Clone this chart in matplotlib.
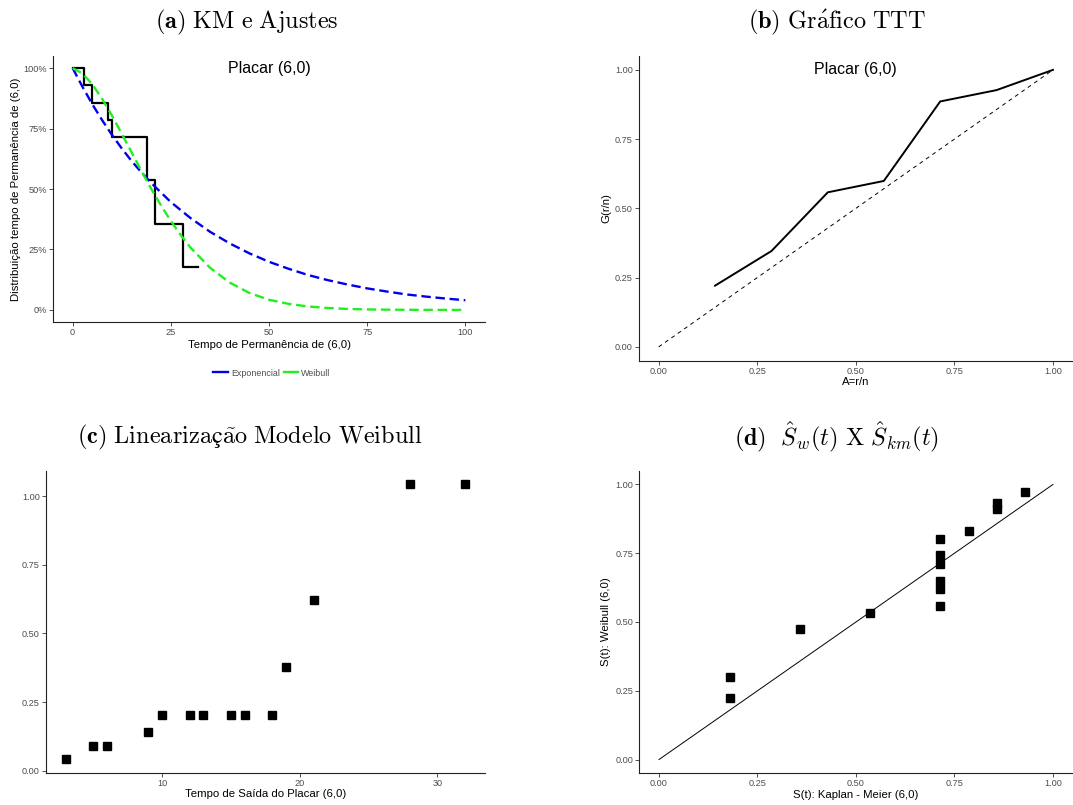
import matplotlib
matplotlib.use("Agg")
import matplotlib.pyplot as plt
from matplotlib.ticker import PercentFormatter

plt.rcParams['font.family'] = ['Liberation Sans', 'DejaVu Sans']
plt.rcParams['mathtext.fontset'] = 'cm'

# (a) Kaplan-Meier and fitted curves
km_time = [0, 3, 5, 9, 10, 19, 21, 28, 32]
km_surv = [1.0, 0.929, 0.857, 0.786, 0.714, 0.536, 0.357, 0.179, 0.179]

exp_t = [0, 2.5, 5, 7.5, 10, 12.5, 15, 17.5, 20, 25, 30, 35, 40, 45, 50, 55, 60, 65, 70, 75, 80, 85, 90, 95, 100]
exp_s = [1.0, 0.923, 0.851, 0.785, 0.724, 0.668, 0.616, 0.569, 0.525, 0.446, 0.380, 0.323, 0.275, 0.234, 0.199,
         0.170, 0.144, 0.123, 0.105, 0.089, 0.076, 0.064, 0.055, 0.047, 0.040]

wei_t = [0, 2.5, 5, 7.5, 10, 12.5, 15, 17.5, 20, 22.5, 25, 27.5, 30, 35, 40, 45, 50, 55, 60, 65, 70, 75, 80, 85, 90, 95, 100]
wei_s = [1.0, 0.978, 0.933, 0.873, 0.804, 0.729, 0.652, 0.575, 0.501, 0.432, 0.368, 0.310, 0.258, 0.174, 0.113,
         0.070, 0.042, 0.025, 0.014, 0.008, 0.004, 0.002, 0.001, 0.0005, 0.0002, 0.0001, 0.0]

# (b) TTT plot
ttt_x = [0.143, 0.286, 0.429, 0.571, 0.714, 0.857, 1.0]
ttt_y = [0.221, 0.346, 0.558, 0.599, 0.886, 0.927, 1.0]

# (c) linearizacao
lin_t = [3, 5, 6, 9, 10, 12, 13, 15, 16, 18, 19, 21, 28, 32]
lin_y = [0.042, 0.088, 0.088, 0.141, 0.204, 0.204, 0.204, 0.204, 0.204, 0.204, 0.378, 0.624, 1.044, 1.044]

# (d) Weibull x KM
km_pts = [0.179, 0.179, 0.357, 0.536, 0.714, 0.714, 0.714, 0.714, 0.714, 0.714, 0.786, 0.857, 0.857, 0.929]
wb_pts = [0.300, 0.223, 0.473, 0.531, 0.802, 0.742, 0.712, 0.650, 0.620, 0.558, 0.831, 0.933, 0.912, 0.971]

tick_col = '#4d4d4d'
fig = plt.figure(figsize=(10.73, 8.05), dpi=100)


def classic(ax):
    # ggplot theme_classic look
    for s in ['top', 'right']:
        ax.spines[s].set_visible(False)
    for s in ['left', 'bottom']:
        ax.spines[s].set_linewidth(0.8)
        ax.spines[s].set_color('#222222')
    ax.tick_params(labelsize=6.6, labelcolor=tick_col, color='#333333', length=2.8, width=0.6, pad=1.5)


ax1 = fig.add_axes([0.0494, 0.600, 0.4026, 0.3304])
ax1.step(km_time, km_surv, where='post', color='black', lw=1.6)
l1, = ax1.plot(exp_t, exp_s, color='#0000ee', lw=1.7, dashes=(4, 2), label='Exponencial')
l2, = ax1.plot(wei_t, wei_s, color='#22ee22', lw=1.7, dashes=(4, 2), label='Weibull')
ax1.set_xlim(-5, 105)
ax1.set_ylim(-0.05, 1.05)
ax1.set_xticks([0, 25, 50, 75, 100])
ax1.set_yticks([0, 0.25, 0.5, 0.75, 1.0])
ax1.yaxis.set_major_formatter(PercentFormatter(1.0, decimals=0))
ax1.text(50, 1.0, 'Placar (6,0)', ha='center', va='center', fontsize=11.5)
ax1.set_xlabel('Tempo de Permanência de (6,0)', fontsize=8.2, labelpad=2)
ax1.set_ylabel('Distribuição tempo de Permanência de (6,0)', fontsize=8.2, labelpad=2)
classic(ax1)
fig.legend(handles=[l1, l2], loc='center', bbox_to_anchor=(272 / 1073, 1 - 373 / 805), ncol=2, frameon=False,
           fontsize=6.4, handlelength=1.6, columnspacing=0.4, handletextpad=0.4,
           labelcolor=tick_col)
for h in fig.legends[0].get_lines():
    h.set_linestyle('-')

ax2 = fig.add_axes([0.5955, 0.5519, 0.4042, 0.3785])
ax2.plot([0, 1], [0, 1], color='black', lw=0.7, dashes=(4, 4))
ax2.plot(ttt_x, ttt_y, color='black', lw=1.4)
ax2.set_xlim(-0.05, 1.05)
ax2.set_ylim(-0.05, 1.05)
ax2.set_xticks([0, 0.25, 0.5, 0.75, 1.0])
ax2.set_yticks([0, 0.25, 0.5, 0.75, 1.0])
ax2.set_xticklabels(['0.00', '0.25', '0.50', '0.75', '1.00'])
ax2.set_yticklabels(['0.00', '0.25', '0.50', '0.75', '1.00'])
ax2.text(0.5, 1.0, 'Placar (6,0)', ha='center', va='center', fontsize=11.5)
ax2.set_xlabel('A=r/n', fontsize=8.2, labelpad=1)
ax2.set_ylabel('G(r/n)', fontsize=8.2, labelpad=3)
classic(ax2)

ax3 = fig.add_axes([0.0426, 0.0401, 0.4094, 0.3752])
ax3.plot(lin_t, lin_y, 's', color='black', ms=5.3)
ax3.set_xlim(1.55, 33.45)
ax3.set_ylim(-0.008, 1.094)
ax3.set_xticks([10, 20, 30])
ax3.set_yticks([0, 0.25, 0.5, 0.75, 1.0])
ax3.set_yticklabels(['0.00', '0.25', '0.50', '0.75', '1.00'])
ax3.set_xlabel('Tempo de Saída do Placar (6,0)', fontsize=8.2, labelpad=1)
classic(ax3)

ax4 = fig.add_axes([0.5958, 0.0394, 0.4039, 0.3759])
ax4.plot([0, 1], [0, 1], color='black', lw=0.7)
ax4.plot(km_pts, wb_pts, 's', color='black', ms=5.3)
ax4.set_xlim(-0.05, 1.05)
ax4.set_ylim(-0.05, 1.05)
ax4.set_xticks([0, 0.25, 0.5, 0.75, 1.0])
ax4.set_yticks([0, 0.25, 0.5, 0.75, 1.0])
ax4.set_xticklabels(['0.00', '0.25', '0.50', '0.75', '1.00'])
ax4.set_yticklabels(['0.00', '0.25', '0.50', '0.75', '1.00'])
ax4.set_xlabel('S(t): Kaplan - Meier (6,0)', fontsize=8.2, labelpad=1)
ax4.set_ylabel('S(t): Weibull (6,0)', fontsize=8.2, labelpad=3)
classic(ax4)

# panel titles (LaTeX-like, all in mathtext)
titles = [
    (247, 22, r'$(\mathbf{a})\ \mathrm{KM\ e\ Ajustes}$'),
    (837, 22, r'$(\mathbf{b})\ \mathrm{Gr\acute{a}fico\ TTT}$'),
    (250, 437, r'$(\mathbf{c})\ \mathrm{Lineariza}$ç$\mathrm{\tilde{a}o\ Modelo\ Weibull}$'),
    (837, 437, r'$(\mathbf{d})\ \ \hat{S}_w(t)\ \mathrm{X}\ \hat{S}_{km}(t)$'),
]
for tx, ty, tt in titles:
    fig.text(tx / 1073, 1 - ty / 805, tt, ha='center', va='center', fontsize=17.5,
             family=['STIXGeneral', 'DejaVu Serif'])

plt.savefig('out.png', dpi=100)
